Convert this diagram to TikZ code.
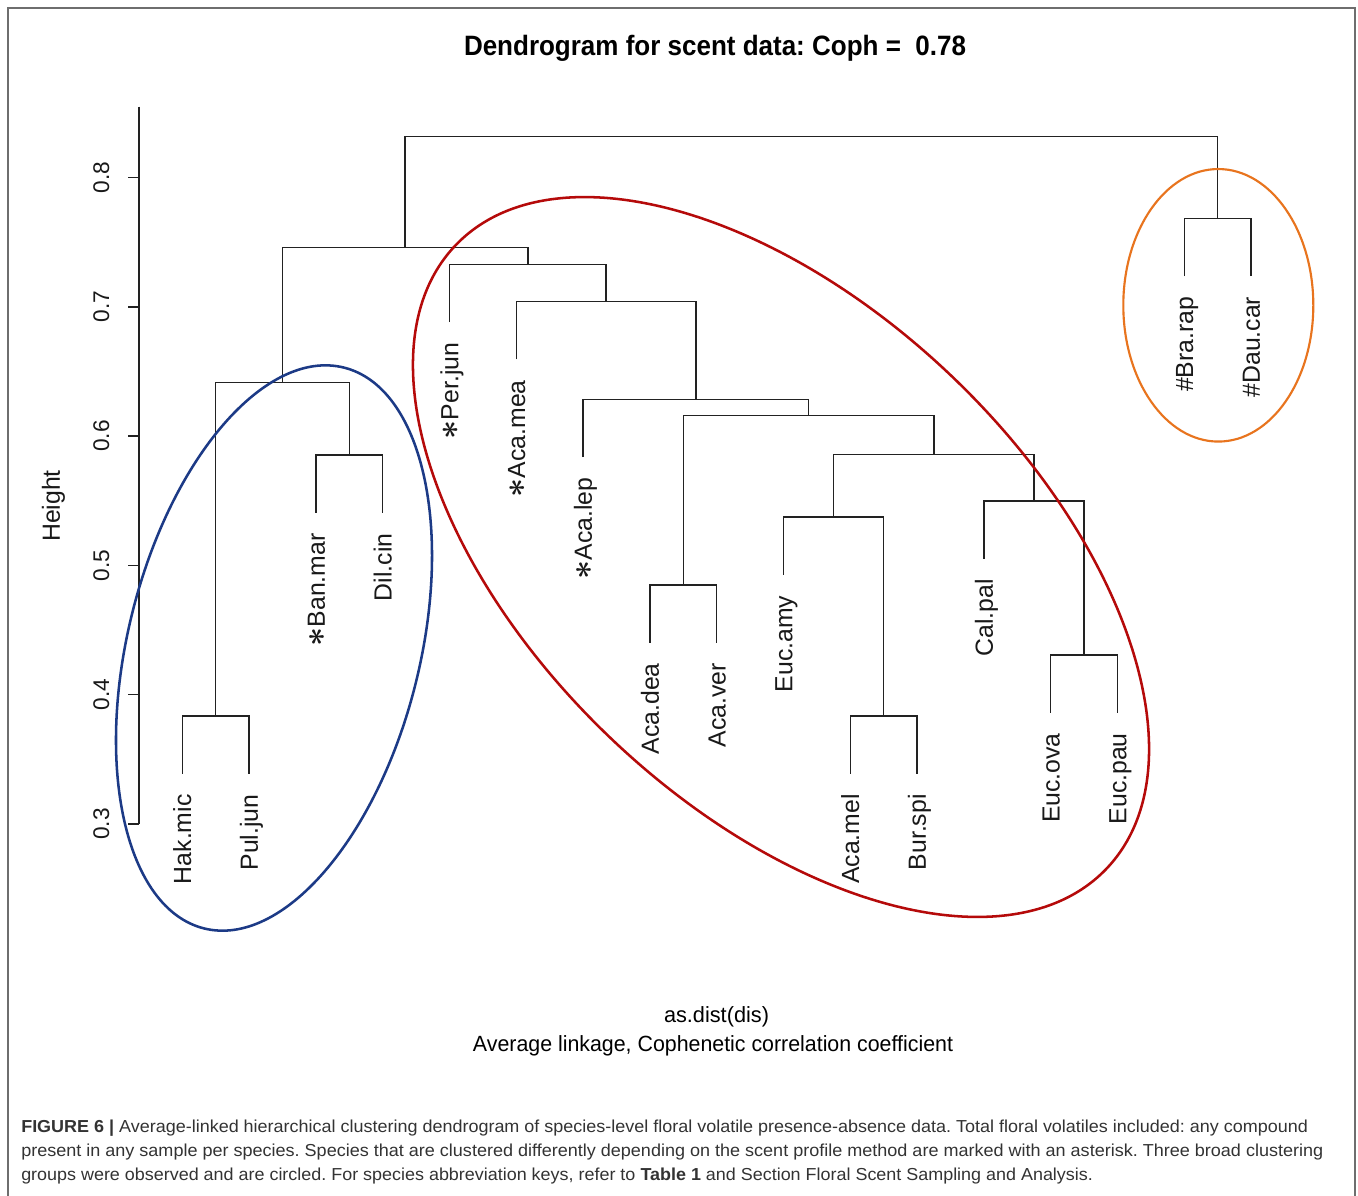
\documentclass[tikz,border=0pt]{standalone}
\usepackage{graphicx}
\usepackage{fontspec}
\setmainfont{Liberation Sans}
\frenchspacing
\newcommand{\astk}{{\fontsize{23pt}{23pt}\selectfont\boldmath$\ast$}}
\definecolor{framegray}{HTML}{6E6E6E}
\definecolor{capgray}{HTML}{333333}
\definecolor{ellblue}{HTML}{1C3A86}
\definecolor{ellred}{HTML}{B50A0A}
\definecolor{ellorange}{HTML}{E8741E}
\definecolor{treeline}{HTML}{222222}
\tikzset{
  dendro/.style={draw=treeline, line width=1.1pt, line join=miter},
  leaflab/.style={rotate=90, anchor=east, inner sep=0pt, text height=13.3pt, text depth=0pt,
    font=\fontsize{18.6pt}{18.6pt}\selectfont, text=black!90},
  ticklab/.style={rotate=90, anchor=center, inner sep=0pt, text height=12.2pt, text depth=0pt,
    font=\fontsize{17pt}{17pt}\selectfont, text=black!90},
  ellline/.style={line width=1.9pt},
  capline/.style={anchor=base west, inner sep=0pt, text=capgray, font=\fontsize{13pt}{13pt}\selectfont},
}
\begin{document}
\begin{tikzpicture}[x=0.75pt,y=-0.75pt]
\useasboundingbox (0,0) rectangle (1358,1195);
\fill[white] (0,0) rectangle (1358,1195);
% outer frame
\draw[framegray, line width=1.5pt] (7.5,1196) -- (7.5,8) -- (1355,8) -- (1355,1196);

% title
\node[anchor=base, inner sep=0pt] (title) at (715,56)
  {\resizebox{376.5pt}{\height}{\fontsize{21pt}{21pt}\selectfont\bfseries Dendrogram for scent data: Coph =\ \ 0.78}};

% axis
\coordinate (axTop) at (139,106.7);
\coordinate (axBot) at (139,824);
\draw[dendro] (axTop) -- (axBot);
\foreach \h/\yy in {0.3/824,0.4/694.7,0.5/565.4,0.6/436.1,0.7/306.8,0.8/177.5}{
  \draw[dendro] (128,\yy) -- (139,\yy);
  \node[ticklab] at (101,\yy) {\h};
}
\node[ticklab, font=\fontsize{18.6pt}{18.6pt}\selectfont, text height=13.3pt] (ylab) at (51,506) {Height};

% leaves (bottom ends)
\coordinate (HakMic) at (182.3,773.7);
\coordinate (PulJun) at (249.1,773.7);
\coordinate (BanMar) at (315.9,512.7);
\coordinate (DilCin) at (382.7,512.7);
\coordinate (PerJun) at (449.5,322.0);
\coordinate (AcaMea) at (516.3,359.4);
\coordinate (AcaLep) at (583.1,457.0);
\coordinate (AcaDea) at (649.9,642.6);
\coordinate (AcaVer) at (716.7,642.6);
\coordinate (EucAmy) at (783.5,574.8);
\coordinate (AcaMel) at (850.3,773.5);
\coordinate (BurSpi) at (917.1,773.5);
\coordinate (CalPal) at (983.9,558.6);
\coordinate (EucOva) at (1050.7,712.5);
\coordinate (EucPau) at (1117.5,712.5);
\coordinate (BraRap) at (1184.3,276.0);
\coordinate (DauCar) at (1251.1,276.0);

% merges
\coordinate (mHP) at (215.7,716);
\coordinate (mBD) at (349.3,455);
\coordinate (mL) at (282.5,382.3);
\coordinate (mOV) at (1084.1,654.8);
\coordinate (mC) at (1034,500.9);
\coordinate (mMB) at (883.7,715.8);
\coordinate (mE) at (833.6,517.1);
\coordinate (mF) at (933.8,454.4);
\coordinate (mDV) at (683.3,584.9);
\coordinate (mG) at (808.55,415.6);
\coordinate (mH) at (695.83,399.3);
\coordinate (mI) at (606.06,301.7);
\coordinate (mJ) at (527.78,264.3);
\coordinate (mK) at (405.14,247.7);
\coordinate (mBR) at (1217.7,218.3);
\coordinate (root) at (811.42,136.7);

% connectors
\foreach \c/\p in {HakMic/mHP,PulJun/mHP,BanMar/mBD,DilCin/mBD,mHP/mL,mBD/mL,
  EucOva/mOV,EucPau/mOV,CalPal/mC,mOV/mC,AcaMel/mMB,BurSpi/mMB,EucAmy/mE,mMB/mE,
  mE/mF,mC/mF,AcaDea/mDV,AcaVer/mDV,mDV/mG,mF/mG,AcaLep/mH,mG/mH,AcaMea/mI,mH/mI,
  PerJun/mJ,mI/mJ,mL/mK,mJ/mK,BraRap/mBR,DauCar/mBR,mK/root,mBR/root}{
  \draw[dendro] (\c) |- (\p);
}

% leaf labels
\node[leaflab] (lHakMic) at ([yshift=-15.4pt]HakMic) {Hak.mic};
\node[leaflab] (lPulJun) at ([yshift=-15.4pt]PulJun) {Pul.jun};
\node[leaflab] (lBanMar) at ([yshift=-15.4pt]BanMar) {\astk Ban.mar};
\node[leaflab] (lDilCin) at ([yshift=-15.4pt]DilCin) {Dil.cin};
\node[leaflab] (lPerJun) at ([yshift=-15.4pt]PerJun) {\astk Per.jun};
\node[leaflab] (lAcaMea) at ([yshift=-15.4pt]AcaMea) {\astk Aca.mea};
\node[leaflab] (lAcaLep) at ([yshift=-15.4pt]AcaLep) {\astk Aca.lep};
\node[leaflab] (lAcaDea) at ([yshift=-15.4pt]AcaDea) {Aca.dea};
\node[leaflab] (lAcaVer) at ([yshift=-15.4pt]AcaVer) {Aca.ver};
\node[leaflab] (lEucAmy) at ([yshift=-15.4pt]EucAmy) {Euc.amy};
\node[leaflab] (lAcaMel) at ([yshift=-15.4pt]AcaMel) {Aca.mel};
\node[leaflab] (lBurSpi) at ([yshift=-15.4pt]BurSpi) {Bur.spi};
\node[leaflab] (lCalPal) at ([yshift=-15.4pt]CalPal) {Cal.pal};
\node[leaflab] (lEucOva) at ([yshift=-15.4pt]EucOva) {Euc.ova};
\node[leaflab] (lEucPau) at ([yshift=-15.4pt]EucPau) {Euc.pau};
\node[leaflab] (lBraRap) at ([yshift=-15.4pt]BraRap) {\#Bra.rap};
\node[leaflab] (lDauCar) at ([yshift=-15.4pt]DauCar) {\#Dau.car};

% group ellipses
\draw[ellline, ellblue, rotate around={76:(274,648)}] (274,648) ellipse [x radius=216.75pt, y radius=109.5pt];
\draw[ellline, ellred, rotate around={-43.8:(781,557)}] (781,557) ellipse [x radius=338pt, y radius=186.5pt];
\draw[ellline, ellorange, line width=1.6pt] (1218.3,305.3) ellipse [x radius=71.25pt, y radius=102.2pt];

% x-axis annotation
\node[anchor=base, inner sep=0pt] (xlab1) at (716.5,1022)
  {\resizebox{78.75pt}{\height}{\fontsize{16.5pt}{16.5pt}\selectfont as.dist(dis)}};
\node[anchor=base, inner sep=0pt] (xlab2) at (713,1051)
  {\resizebox{360pt}{\height}{\fontsize{16.5pt}{16.5pt}\selectfont Average linkage, Cophenetic correlation coefficient}};

% caption
\node[capline] (cap1) at (21,1132.5)
  {\resizebox{965pt}{\height}{\textbf{FIGURE 6 |} Average-linked hierarchical clustering dendrogram of species-level floral volatile presence-absence data. Total floral volatiles included: any compound}};
\node[capline] (cap2) at (21,1156.5)
  {\resizebox{976.5pt}{\height}{present in any sample per species. Species that are clustered differently depending on the scent profile method are marked with an asterisk. Three broad clustering}};
\node[capline] (cap3) at (21,1180.5)
  {\resizebox{803.7pt}{\height}{groups were observed and are circled. For species abbreviation keys, refer to \textbf{Table 1} and Section Floral Scent Sampling and Analysis.}};
\end{tikzpicture}
\end{document}
